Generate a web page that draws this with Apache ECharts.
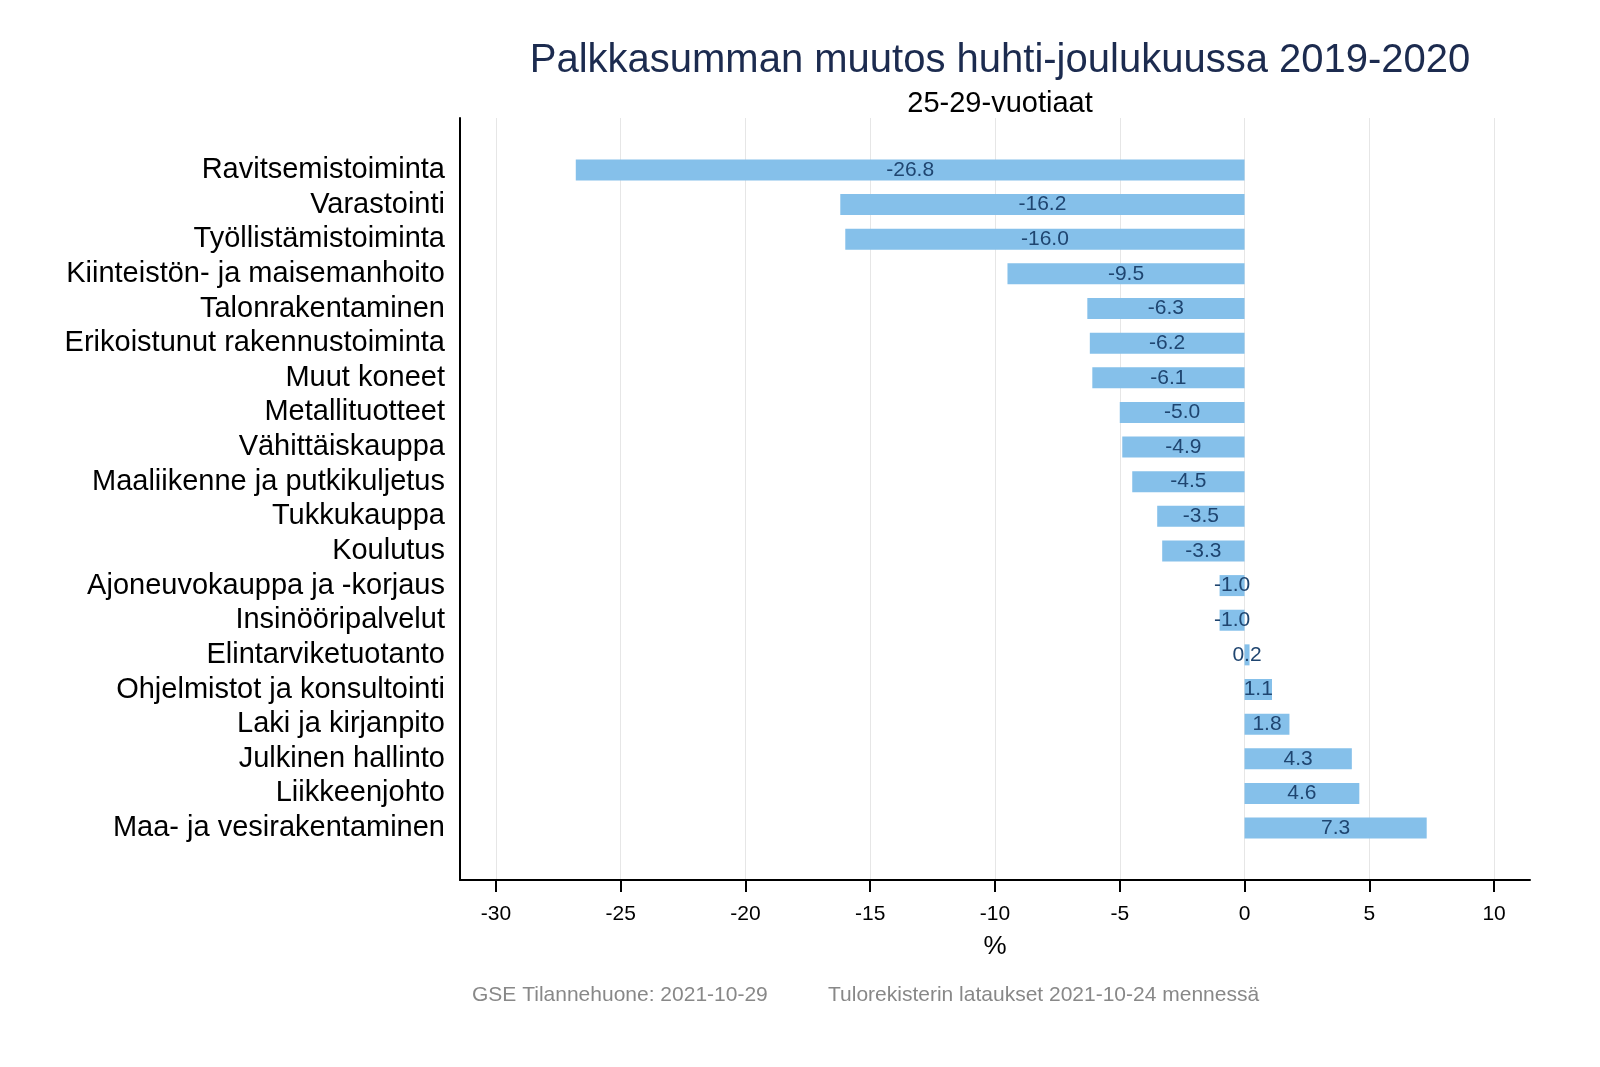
<!DOCTYPE html>
<html lang="fi">
<head>
<meta charset="UTF-8" />
<title>Palkkasumman muutos</title>
<script src="https://cdn.jsdelivr.net/npm/echarts@6/dist/echarts.min.js"></script>
<style>
    html, body { margin: 0; padding: 0; background: #fff; }
    #chart { width: 1600px; height: 1067px; }
</style>
</head>
<body>
<div id="chart"></div>
<script>
    // toimialat, ylhäältä alas
    var categories = [
        'Ravitsemistoiminta',
        'Varastointi',
        'Työllistämistoiminta',
        'Kiinteistön- ja maisemanhoito',
        'Talonrakentaminen',
        'Erikoistunut rakennustoiminta',
        'Muut koneet',
        'Metallituotteet',
        'Vähittäiskauppa',
        'Maaliikenne ja putkikuljetus',
        'Tukkukauppa',
        'Koulutus',
        'Ajoneuvokauppa ja -korjaus',
        'Insinööripalvelut',
        'Elintarviketuotanto',
        'Ohjelmistot ja konsultointi',
        'Laki ja kirjanpito',
        'Julkinen hallinto',
        'Liikkeenjohto',
        'Maa- ja vesirakentaminen'
    ];
    var values = [-26.8, -16.2, -16.0, -9.5, -6.3, -6.2, -6.1, -5.0, -4.9, -4.5,
                  -3.5, -3.3, -1.0, -1.0, 0.2, 1.1, 1.8, 4.3, 4.6, 7.3];
    var xTicks = [-30, -25, -20, -15, -10, -5, 0, 5, 10];

    // tyhjä rivi ylä- ja alapäähän, jotta akselin reunaan jää tilaa
    var axisCats = [''].concat(categories, ['']);
    var axisVals = [null].concat(values, [null]);

    var font = 'Liberation Sans, Arial, sans-serif';
    var chart = echarts.init(document.getElementById('chart'));

    var option = {
        animation: false,
        backgroundColor: '#fff',
        title: [
            {
                text: 'Palkkasumman muutos huhti-joulukuussa 2019-2020',
                left: 995, top: 36, textAlign: 'center',
                textStyle: { fontFamily: font, fontSize: 40, fontWeight: 'normal', color: '#1c2b4f' }
            },
            {
                text: '25-29-vuotiaat',
                left: 995, top: 84, textAlign: 'center',
                textStyle: { fontFamily: font, fontSize: 29, fontWeight: 'normal', color: '#000' }
            },
            {
                text: 'GSE Tilannehuone: 2021-10-29',
                left: 467, top: 980,
                textStyle: { fontFamily: font, fontSize: 21, fontWeight: 'normal', color: '#888' }
            },
            {
                text: 'Tulorekisterin lataukset 2021-10-24 mennessä',
                left: 823, top: 980,
                textStyle: { fontFamily: font, fontSize: 21, fontWeight: 'normal', color: '#888' }
            }
        ],
        grid: { left: 460, right: 70, top: 118, bottom: 187, containLabel: false },
        xAxis: {
            type: 'value',
            min: -31.44,
            max: 11.44,
            interval: 5,
            name: '%',
            nameLocation: 'middle',
            nameGap: 54,
            nameTextStyle: { fontFamily: font, fontSize: 26, color: '#000' },
            axisLine: { show: true, onZero: false, lineStyle: { color: '#000', width: 2 } },
            axisTick: { show: true, length: 12, lineStyle: { color: '#000', width: 2 },
                customValues: xTicks },
            axisLabel: { fontFamily: font, fontSize: 21, color: '#000', margin: 24,
                customValues: xTicks },
            splitLine: { show: true, lineStyle: { color: '#e6e6e6', width: 1 } }
        },
        yAxis: {
            type: 'category',
            inverse: true,
            data: axisCats,
            axisLine: { show: true, onZero: false, lineStyle: { color: '#000', width: 2 } },
            axisTick: { show: false },
            axisLabel: { interval: 0, fontFamily: font, fontSize: 29, color: '#000', margin: 15 },
            splitLine: { show: false }
        },
        series: [
            {
                type: 'bar',
                data: axisVals,
                barWidth: 21,
                itemStyle: { color: '#85c0ea' },
                label: {
                    show: true,
                    position: 'inside',
                    fontFamily: font,
                    fontSize: 21,
                    color: '#1f4570',
                    formatter: function (p) { return p.value.toFixed(1); }
                }
            }
        ]
    };
    chart.setOption(option);
</script>
</body>
</html>
